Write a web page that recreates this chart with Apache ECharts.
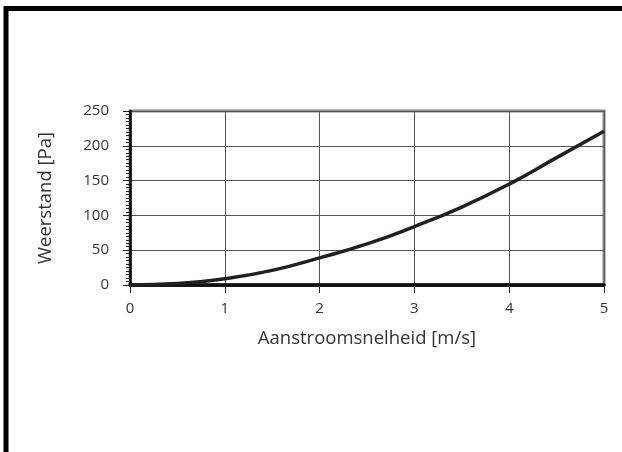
<!DOCTYPE html>
<html>
<head>
<meta charset="utf-8">
<script src="https://cdn.jsdelivr.net/npm/echarts@6/dist/echarts.min.js"></script>
<style>
html,body{margin:0;padding:0;background:#fff;}
#chart{width:622px;height:452px;}
</style>
</head>
<body>
<div id="chart"></div>
<script>
const speeds = [0, 0.5, 1, 1.5, 2, 2.5, 3, 3.5, 4, 4.5, 5];
const resistance = [0, 2, 9, 21, 39, 59, 84, 112, 145, 183, 221];
const xTicks = [0, 1, 2, 3, 4, 5];
const yTicks = [0, 50, 100, 150, 200, 250];
const xTitle = 'Aanstroomsnelheid [m/s]';
const yTitle = 'Weerstand [Pa]';

const FONT = '"Open Sans", sans-serif';
const TXT = '#333';
const chart = echarts.init(document.getElementById('chart'), null, {renderer: 'canvas'});
chart.setOption({
  backgroundColor: '#fff',
  animation: false,
  graphic: [{
    type: 'rect',
    shape: {x: 6, y: 8.5, width: 700, height: 600},
    style: {fill: 'none', stroke: '#000', lineWidth: 5},
    silent: true
  }],
  grid: {
    left: 130, right: 18, top: 111, bottom: 167,
    show: true, borderColor: '#888', borderWidth: 3, backgroundColor: 'transparent'
  },
  xAxis: [{
    type: 'value', min: xTicks[0], max: xTicks[xTicks.length - 1], interval: 1,
    name: xTitle, nameLocation: 'middle', nameGap: 44,
    nameTextStyle: {fontFamily: FONT, fontSize: 18.5, color: TXT},
    axisLine: {show: true, onZero: false, lineStyle: {color: '#000', width: 3.5}},
    axisTick: {show: true, length: 8, lineStyle: {color: '#222', width: 1}},
    axisLabel: {fontFamily: FONT, fontSize: 15, color: TXT, margin: 16},
    splitLine: {show: true, lineStyle: {color: '#555', width: 1}}
  }, {
    type: 'value', position: 'top', min: xTicks[0], max: xTicks[xTicks.length - 1], interval: 1,
    axisLine: {show: true, lineStyle: {color: '#111', width: 2.5}},
    axisTick: {show: false}, axisLabel: {show: false}, splitLine: {show: false}
  }],
  yAxis: {
    type: 'value', min: yTicks[0], max: yTicks[yTicks.length - 1], interval: 50,
    name: yTitle, nameLocation: 'middle', nameGap: 75, nameRotate: 90,
    nameTextStyle: {fontFamily: FONT, fontSize: 18.5, color: TXT},
    axisLine: {show: true, onZero: false, lineStyle: {color: '#000', width: 2.5}},
    axisTick: {show: true, length: 7, lineStyle: {color: '#222', width: 1}},
    minorTick: {show: true, splitNumber: 10, length: 4, lineStyle: {color: '#222', width: 1}},
    axisLabel: {fontFamily: FONT, fontSize: 15, color: TXT, margin: 21},
    splitLine: {show: true, lineStyle: {color: '#555', width: 1}}
  },
  series: [{
    type: 'line', xAxisIndex: 0,
    data: speeds.map((v, i) => [v, resistance[i]]),
    smooth: true, showSymbol: false, symbol: 'none',
    lineStyle: {color: '#231f20', width: 3.5},
    clip: false
  }]
});
</script>
</body>
</html>
